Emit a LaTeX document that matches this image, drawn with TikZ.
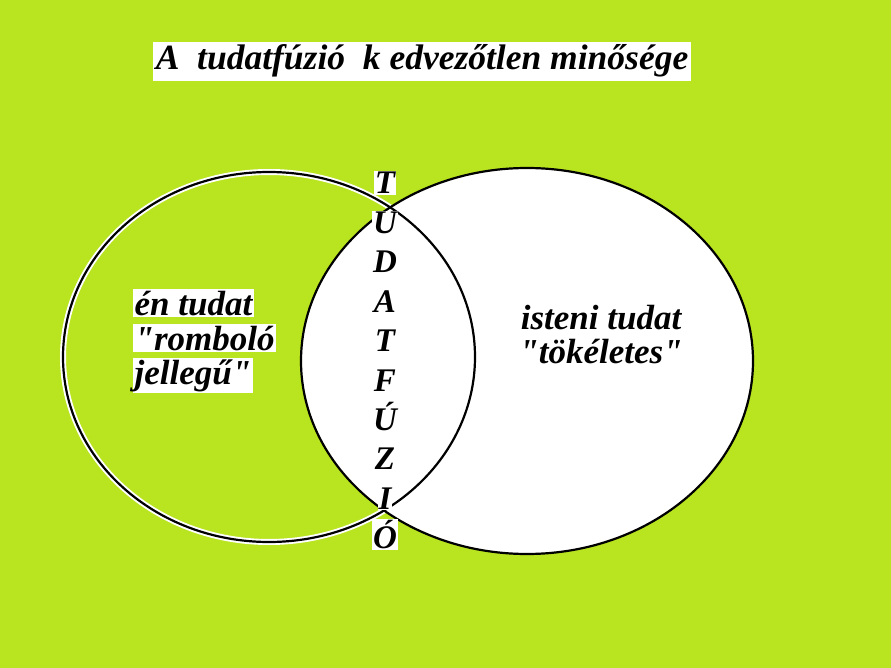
\documentclass[tikz,border=0pt]{standalone}
\usepackage{fontspec}
\newfontfamily\tfont{Liberation Serif}
\definecolor{lime}{RGB}{185,228,32}
\begin{document}
\begin{tikzpicture}[x=1pt,y=-1pt,
  ttl/.style={font=\tfont\bfseries\itshape\fontsize{35.5}{37}\selectfont, fill=white, inner sep=3pt, anchor=base},
  lbl/.style={font=\tfont\bfseries\itshape\fontsize{35}{36}\selectfont, inner sep=1.5pt},
  letter/.style={font=\tfont\bfseries\itshape\fontsize{33}{33}\selectfont, fill=white, inner sep=1pt, anchor=base},
  ring/.style={line width=2.2pt, draw=black}]
\fill[lime] (0,0) rectangle (891,668);
\useasboundingbox (0,0) rectangle (891,668);
% circles
\draw[white, line width=6pt] (269,357) ellipse [x radius=206, y radius=185];
\fill[white] (527,361) ellipse [x radius=226, y radius=193];
\draw[ring] (527,361) ellipse [x radius=226, y radius=193];
\draw[ring] (269,357) ellipse [x radius=206, y radius=185];
% title
\node[ttl] (title) at (422,70) {A\ \ tudatfúzió\ \ k edvezőtlen minősége};
% left text
\node[lbl, fill=white, anchor=base west] (l1) at (133,315) {én tudat};
\node[lbl, fill=white, anchor=base west] (l2) at (133,350) {"romboló};
\node[lbl, fill=white, anchor=base west] (l3) at (133,384) {jellegű"};
% right text
\node[lbl, anchor=base] (r1) at (601,329) {isteni tudat};
\node[lbl, anchor=base] (r2) at (601,363) {"tökéletes"};
% vertical word
\foreach \c [count=\i from 0] in {T,U,D,A,T,F,Ú,Z,I,Ó} {
  \node[letter] (v\i) at (385,194+39.4*\i) {\c};
}
\end{tikzpicture}
\end{document}
